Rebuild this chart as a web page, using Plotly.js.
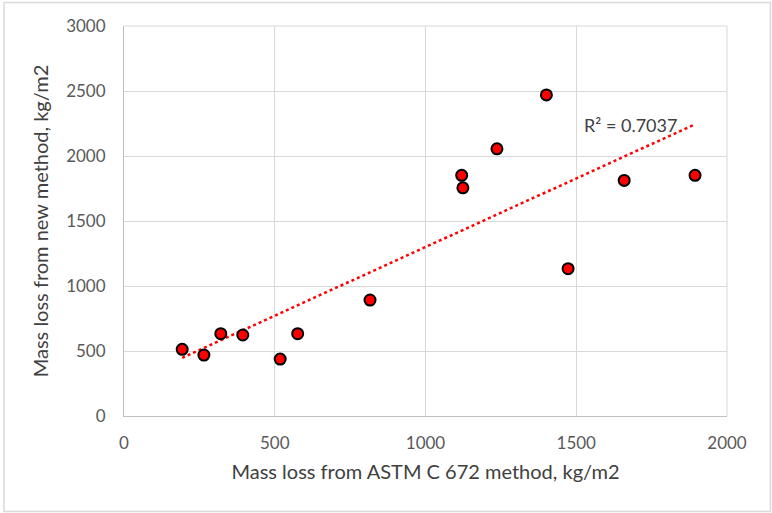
<!DOCTYPE html>
<html>
<head>
<meta charset="utf-8">
<script src="https://cdn.plot.ly/plotly-3.0.1.min.js"></script>
<style>html,body{margin:0;padding:0;background:#fff;}#chart{width:772px;height:513px;}</style>
</head>
<body>
<div id="chart"></div>
<script>
// Mass loss data (kg/m2)
const astmLoss = [193, 265, 321, 394, 518, 576, 816, 1120, 1124, 1237, 1401, 1473, 1659, 1894];
const newLoss  = [513, 469, 633, 623, 438, 633, 892, 1851, 1755, 2055, 2470, 1133, 1812, 1851];
const r2Label = "R² = 0.7037";
const xTicks = [0, 500, 1000, 1500, 2000];
const yTicks = [0, 500, 1000, 1500, 2000, 2500, 3000];

// least-squares linear trendline over the data range
const n = astmLoss.length;
const mx = astmLoss.reduce((a, b) => a + b, 0) / n;
const my = newLoss.reduce((a, b) => a + b, 0) / n;
let sxy = 0, sxx = 0;
for (let i = 0; i < n; i++) { sxy += (astmLoss[i] - mx) * (newLoss[i] - my); sxx += (astmLoss[i] - mx) ** 2; }
const slope = sxy / sxx, intercept = my - slope * mx;
const xmin = Math.min(...astmLoss), xmax = Math.max(...astmLoss);
const trendX = [xmin, xmax];
const trendY = trendX.map(x => intercept + slope * x);

const font = "Lato, 'Open Sans', sans-serif";
const txt = "#595959";

const traces = [
  { x: trendX, y: trendY, mode: "lines", type: "scatter",
    line: { color: "#ff0000", width: 2.5, dash: "dot" }, hoverinfo: "skip" },
  { x: astmLoss, y: newLoss, mode: "markers", type: "scatter",
    marker: { color: "#ff0000", size: 11, line: { color: "#000000", width: 2 } } }
];

const layout = {
  width: 772, height: 513,
  margin: { l: 124, r: 45, t: 26, b: 97 },
  paper_bgcolor: "#fff", plot_bgcolor: "#fff",
  showlegend: false,
  font: { family: font, color: txt, size: 17 },
  xaxis: {
    range: [0, 2000], tickvals: xTicks, ticktext: xTicks.map(String),
    showgrid: true, gridcolor: "#d9d9d9", gridwidth: 1,
    showline: true, linecolor: "#bfbfbf", linewidth: 1, zeroline: false,
    ticks: "outside", ticklen: 12, tickcolor: "rgba(0,0,0,0)",
    tickfont: { family: font, size: 17, color: txt },
    title: { text: "Mass loss from ASTM C 672 method, kg/m2", font: { family: font, size: 20, color: "#404040" }, standoff: 12 }
  },
  yaxis: {
    range: [0, 3000], tickvals: yTicks, ticktext: yTicks.map(String),
    showgrid: true, gridcolor: "#d9d9d9", gridwidth: 1,
    showline: true, linecolor: "#bfbfbf", linewidth: 1, zeroline: false,
    ticks: "outside", ticklen: 14, tickcolor: "rgba(0,0,0,0)",
    tickfont: { family: font, size: 17, color: txt },
    title: { text: "Mass loss from new method, kg/m2", font: { family: font, size: 20, color: "#404040" }, standoff: 12 }
  },
  shapes: [
    { type: "line", xref: "paper", yref: "paper", x0: 0, x1: 1, y0: 1, y1: 1, line: { color: "#d9d9d9", width: 1 } },
    { type: "line", xref: "paper", yref: "paper", x0: 1, x1: 1, y0: 0, y1: 1, line: { color: "#d9d9d9", width: 1 } },
    { type: "rect", xref: "paper", yref: "paper", x0: -0.199, x1: 1.072, y0: -0.245, y1: 1.0605,
      line: { color: "#d9d9d9", width: 1.5 }, fillcolor: "rgba(0,0,0,0)" }
  ],
  annotations: [
    { text: r2Label, xref: "paper", yref: "paper", x: (582 - 124) / 603, y: (416 - 124.7) / 390,
      xanchor: "left", yanchor: "middle", showarrow: false, font: { family: font, size: 18, color: "#404040" } }
  ]
};

Plotly.newPlot("chart", traces, layout, { displayModeBar: false, staticPlot: true });
</script>
</body>
</html>
